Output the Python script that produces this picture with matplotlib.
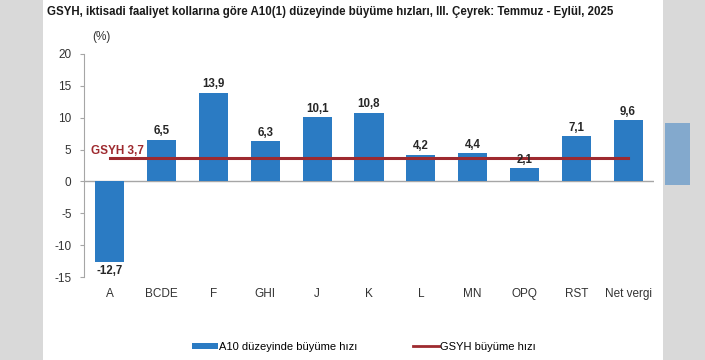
import matplotlib.pyplot as plt
from matplotlib.patches import Rectangle
from matplotlib.lines import Line2D
from matplotlib.patches import Patch

plt.rcParams['font.family'] = ['Liberation Sans', 'DejaVu Sans']

# veri
kollar = ['A', 'BCDE', 'F', 'GHI', 'J', 'K', 'L', 'MN', 'OPQ', 'RST', 'Net vergi']
buyume = [-12.7, 6.5, 13.9, 6.3, 10.1, 10.8, 4.2, 4.4, 2.1, 7.1, 9.6]
gsyh = 3.7
y_ticks = [-15, -10, -5, 0, 5, 10, 15, 20]

mavi = '#2b7bc3'
kirmizi = '#9e2a2f'

fig = plt.figure(figsize=(7.05, 3.6), dpi=100)
fig.patch.set_facecolor('#d9d9d9')

# arka plan: beyaz panel + sagdaki bulanik mavi sekil
bg = fig.add_axes([0, 0, 1, 1], zorder=-1)
bg.set_xlim(0, 705)
bg.set_ylim(360, 0)
bg.axis('off')
bg.add_patch(Rectangle((43, 0), 620, 360, facecolor='white', edgecolor='none'))
bg.add_patch(Rectangle((665, 123), 25, 62, facecolor='#4a8ac6', edgecolor='none', alpha=0.6))

ax = fig.add_axes([84/705, 1-277/360, (654-84)/705, (277-54)/360])
ax.set_facecolor('none')

x = range(len(kollar))
ax.bar(x, buyume, width=0.56, color=mavi, zorder=2)
ax.plot([0, len(kollar)-1], [gsyh, gsyh], color=kirmizi, lw=2.2, zorder=3)
ax.axhline(0, color='#a6a6a6', lw=1, zorder=1)

for i, v in enumerate(buyume):
    s = ('%.1f' % v).replace('.', ',')
    if v >= 0:
        ax.text(i, v + 0.4, s, ha='center', va='bottom', fontsize=8.3, fontweight='bold', color='#262626')
    else:
        ax.text(i, v - 0.4, s, ha='center', va='top', fontsize=8.3, fontweight='bold', color='#262626')

ax.text(-0.36, 3.9, 'GSYH ' + ('%.1f' % gsyh).replace('.', ','), ha='left', va='bottom',
        fontsize=8.5, fontweight='bold', color=kirmizi)

ax.set_xlim(-0.5, len(kollar)-0.5)
ax.set_ylim(-15, 20)
ax.set_yticks(y_ticks)
ax.set_yticklabels([str(t) for t in y_ticks], fontsize=8.5, color='#333333')
ax.set_xticks(list(x))
ax.set_xticklabels(kollar, fontsize=8.5, color='#333333')
ax.tick_params(axis='x', length=0, pad=8)
ax.tick_params(axis='y', length=3, color='#a6a6a6', pad=6)
for k in ['top', 'right', 'bottom']:
    ax.spines[k].set_visible(False)
ax.spines['left'].set_color('#a6a6a6')

fig.text(47/705, 1-12/360, 'GSYH, iktisadi faaliyet kollarına göre A10(1) düzeyinde büyüme hızları, III. Çeyrek: Temmuz - Eylül, 2025',
         ha='left', va='center', fontsize=8.3, fontweight='bold', color='#1a1a1a')
fig.text(92/705, 1-37/360, '(%)', ha='left', va='center', fontsize=8.5, color='#333333')

handles = [Patch(facecolor=mavi, edgecolor='none'),
           Line2D([0], [0], color=kirmizi, lw=2)]
fig.legend(handles, ['A10 düzeyinde büyüme hızı', 'GSYH büyüme hızı'],
           loc='center', bbox_to_anchor=(364/705, 1-347/360), ncol=2, frameon=False,
           fontsize=8, handlelength=2.3, handleheight=0.5, handletextpad=0.1, columnspacing=5)

fig.savefig('out.png', dpi=100)
